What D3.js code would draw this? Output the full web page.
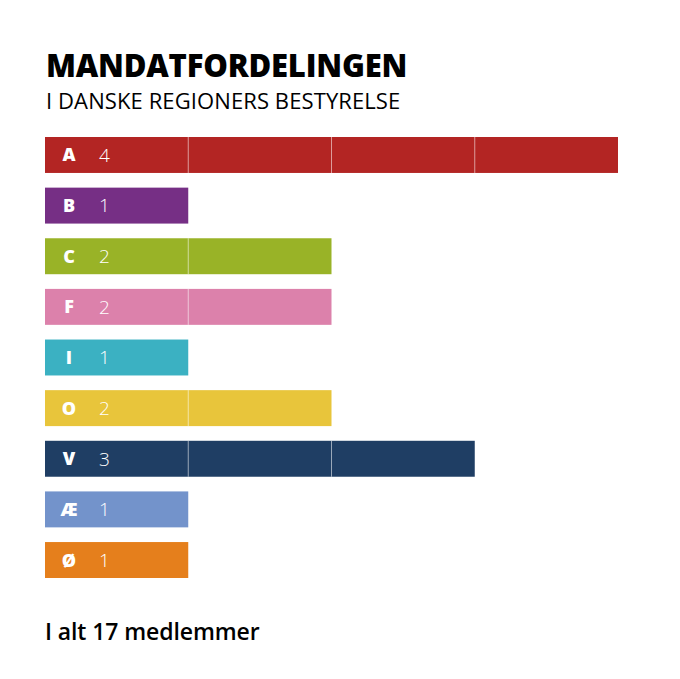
<!DOCTYPE html>
<html>
<head>
<meta charset="utf-8">
<script src="https://cdn.jsdelivr.net/npm/d3@7"></script>
<style>
  body { margin: 0; background: #fff; }
  svg text { font-family: "Open Sans", "DejaVu Sans", sans-serif; }
</style>
</head>
<body>
<div id="chart"></div>
<script>
// party letters, seats and colours
var parties = ["A", "B", "C", "F", "I", "O", "V", "Æ", "Ø"];
var seats = [4, 1, 2, 2, 1, 2, 3, 1, 1];
var colors = ["#b32523", "#762f85", "#99b327", "#dc81ab", "#3bb1c2", "#e8c53b", "#1f3e64", "#7393cb", "#e57f1c"];
var total = 17;

var width = 680, height = 679;
var margin = {left: 45, top: 137, bottom: 578};

var svg = d3.select("#chart").append("svg")
    .attr("width", width)
    .attr("height", height);

// titles
svg.append("text")
    .attr("x", 46).attr("y", 77)
    .style("font-weight", 800)
    .style("font-size", "31px")
    .style("letter-spacing", "-0.2px")
    .attr("fill", "#000")
    .text("MANDATFORDELINGEN");

svg.append("text")
    .attr("x", 46).attr("y", 109)
    .style("font-size", "22px")
    .style("letter-spacing", "0.1px")
    .attr("fill", "#000")
    .text("I DANSKE REGIONERS BESTYRELSE");

var x = d3.scaleLinear().domain([0, 4]).range([margin.left, 618]);
var y = d3.scaleBand().domain(parties)
    .range([margin.top, margin.bottom])
    .paddingInner(0.29).paddingOuter(0);

var data = parties.map(function(p, i) { return {p: p, n: seats[i], c: colors[i]}; });

var rows = svg.selectAll("g.row").data(data).enter().append("g")
    .attr("class", "row")
    .attr("transform", function(d) { return "translate(0," + y(d.p) + ")"; });

rows.append("rect")
    .attr("x", x(0))
    .attr("y", 0)
    .attr("width", function(d) { return x(d.n) - x(0); })
    .attr("height", y.bandwidth())
    .attr("fill", function(d) { return d.c; });

// light dividers between seats
rows.each(function(d) {
    var g = d3.select(this);
    for (var k = 1; k < d.n; k++) {
        g.append("rect")
            .attr("x", x(k) - 0.5)
            .attr("y", 0)
            .attr("width", 1)
            .attr("height", y.bandwidth())
            .attr("fill", "#fff")
            .attr("fill-opacity", 0.55);
    }
});

rows.append("text")
    .attr("x", 69)
    .attr("y", y.bandwidth() / 2)
    .attr("dy", "0.36em")
    .attr("text-anchor", "middle")
    .style("font-weight", 800)
    .style("font-size", "18px")
    .attr("fill", "#fff")
    .text(function(d) { return d.p; });

rows.append("text")
    .attr("x", 99)
    .attr("y", y.bandwidth() / 2)
    .attr("dy", "0.36em")
    .style("font-weight", 300)
    .style("font-size", "19px")
    .attr("fill", "#fff")
    .text(function(d) { return d.n; });

svg.append("text")
    .attr("x", 45).attr("y", 640)
    .style("font-weight", 600)
    .style("font-size", "23px")
    .style("letter-spacing", "-0.1px")
    .attr("fill", "#000")
    .text("I alt " + total + " medlemmer");
</script>
</body>
</html>
